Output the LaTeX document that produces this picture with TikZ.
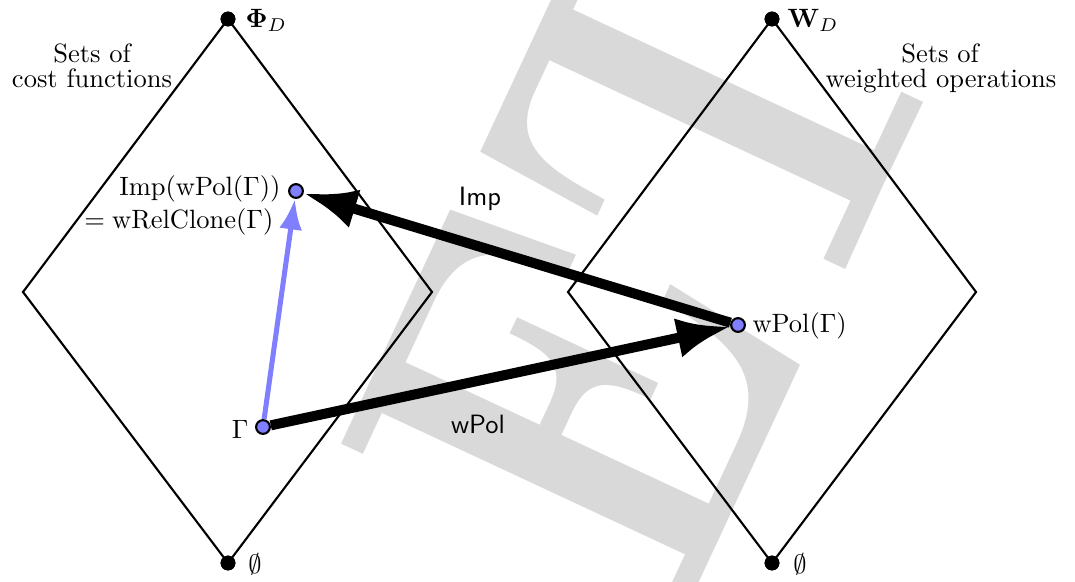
\documentclass[tikz,border=0pt]{standalone}
\usepackage{amsmath}
\usepackage{graphicx}
\usetikzlibrary{arrows.meta}
\begin{document}
\begin{tikzpicture}[x=0.3774pt,y=-0.3774pt,
  bigdot/.style={circle,fill=black,inner sep=0pt,minimum size=5.6pt},
  vnode/.style={circle,draw=black,fill=blue!50,line width=0.8pt,inner sep=0pt,minimum size=5.2pt},
  lattice/.style={line width=0.8pt,line join=miter},
  thickarrow/.style={line width=3.8pt,-{Latex}},
  bluearrow/.style={draw=blue!50,line width=1.9pt,-{Latex}},
  lbl/.style={inner sep=0pt},
  opname/.style={inner sep=0pt,font=\sffamily},
  watermark/.style={inner sep=0pt,rotate=65,text=black!15,font=\fontsize{167}{167}\selectfont\bfseries}]
\useasboundingbox (0,0) rectangle (1075,581);
% watermark
\node[watermark,anchor=north west] (wm) at (334,459) {\scalebox{0.96}[1.27]{ET}};
% lattices
\node[bigdot] (phiD) at (228,19) {};
\node[bigdot] (emptyL) at (228,563) {};
\node[bigdot] (wD) at (772,19) {};
\node[bigdot] (emptyR) at (772,563) {};
\coordinate (lw) at (23,292);
\coordinate (le) at (432,292);
\coordinate (rw) at (568,292);
\coordinate (re) at (976,292);
\draw[lattice] (phiD.center) -- (lw) -- (emptyL.center) -- (le) -- cycle;
\draw[lattice] (wD.center) -- (rw) -- (emptyR.center) -- (re) -- cycle;
\node[bigdot] at (phiD) {};
\node[bigdot] at (emptyL) {};
\node[bigdot] at (wD) {};
\node[bigdot] at (emptyR) {};
% labels of tops and bottoms
\node[lbl,anchor=west] (phiDl) at (245,20) {$\boldsymbol{\Phi}_D$};
\node[lbl,anchor=west] (wDl) at (787,20) {$\mathbf{W}_D$};
\node[lbl] (emptyLl) at (255,564) {$\emptyset$};
\node[lbl] (emptyRl) at (800,564) {$\emptyset$};
% side captions
\node[lbl,anchor=base] (capL1) at (92,62) {Sets of};
\node[lbl,anchor=base] (capL2) at (92,87) {cost functions};
\node[lbl,anchor=base] (capR1) at (940,62) {Sets of};
\node[lbl,anchor=base] (capR2) at (941,87) {weighted operations};
% points
\node[vnode] (imp) at (296,191) {};
\node[vnode] (gam) at (263,427) {};
\node[vnode] (wpol) at (738,325) {};
\node[lbl,anchor=east] (impl1) at (281,189) {$\mathrm{Imp}(\mathrm{wPol}(\Gamma))$};
\node[lbl,anchor=east] (impl2) at (274,222) {$=\mathrm{wRelClone}(\Gamma)$};
\node[lbl,anchor=east] (gaml) at (249,429) {$\Gamma$};
\node[lbl,anchor=west] (wpoll) at (752,325.5) {$\mathrm{wPol}(\Gamma)$};
% arrows
\draw[bluearrow] (gam) -- (imp);
\draw[thickarrow] (wpol) -- (imp);
\draw[thickarrow] (gam) -- (wpol);
\node[opname,anchor=base] (impop) at (480,205) {Imp};
\node[opname,anchor=base] (wpolop) at (478,433) {wPol};
\end{tikzpicture}
\end{document}
